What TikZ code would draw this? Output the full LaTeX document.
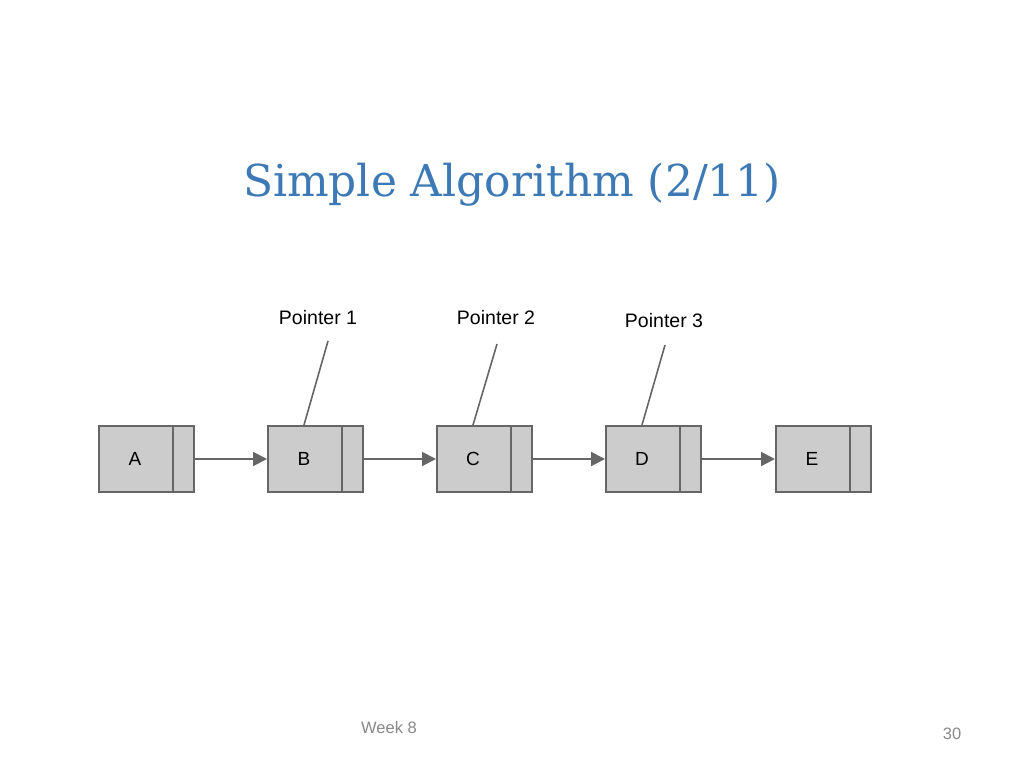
\documentclass[tikz,border=0pt]{standalone}
\usepackage{fontspec}
\setmainfont{Liberation Sans}
\newfontfamily\titlefont{DejaVu Serif}
\usetikzlibrary{arrows.meta,calc}
\definecolor{titleblue}{HTML}{3D7AB5}
\definecolor{boxfill}{HTML}{CCCCCC}
\definecolor{boxline}{HTML}{666666}
\definecolor{footgray}{HTML}{888888}
\tikzset{
  listbox/.style={draw=boxline, fill=boxfill, line width=2pt, minimum width=95pt, minimum height=66pt, inner sep=0pt},
  boxtext/.style={font=\fontsize{19}{21}\selectfont, inner sep=0pt},
  arr/.style={draw=boxline, line width=2pt, -{Triangle[length=14pt,width=14pt]}},
  ptr/.style={draw=boxline, line width=1.6pt},
  plabel/.style={font=\fontsize{19.5}{22}\selectfont, inner sep=0pt},
  foot/.style={font=\fontsize{16.5}{18}\selectfont, text=footgray, inner sep=0pt}
}
\begin{document}
\begin{tikzpicture}[x=1pt,y=-1pt]
\useasboundingbox (0,0) rectangle (1024,768);
\node[text=titleblue, inner sep=0pt, anchor=base] (title) at (512,196) {\resizebox{538pt}{!}{\titlefont\fontsize{34}{40}\selectfont Simple Algorithm (2/11)}};
% boxes
\foreach \n/\x in {A/146.5,B/315.5,C/484.5,D/653.5,E/823.5}{
  \node[listbox] (\n) at (\x,459) {};
  \node[boxtext] (\n t) at ($(\n.west)+(37,0)$) {\n};
  \draw[boxline, line width=2pt] ($(\n.north east)+(-22,0)$) -- ($(\n.south east)+(-22,0)$);
}
% arrows
\draw[arr] (A.east) -- (B.west);
\draw[arr] (B.east) -- (C.west);
\draw[arr] (C.east) -- (D.west);
\draw[arr] (D.east) -- (E.west);
% pointers
\node[plabel] (p1) at (318,318) {Pointer 1};
\node[plabel] (p2) at (496,318) {Pointer 2};
\node[plabel] (p3) at (664,321) {Pointer 3};
\coordinate (p1s) at (328,341);
\coordinate (p2s) at (497,344);
\coordinate (p3s) at (665,345);
\coordinate (B1) at ($(B.north west)+(37,0)$);
\coordinate (C1) at ($(C.north west)+(37,0)$);
\coordinate (D1) at ($(D.north west)+(37,0)$);
\draw[ptr] (p1s) -- (B1);
\draw[ptr] (p2s) -- (C1);
\draw[ptr] (p3s) -- (D1);
% footer
\node[foot] (week) at (389,728) {Week 8};
\node[foot] (page) at (952,734) {30};
\end{tikzpicture}
\end{document}
